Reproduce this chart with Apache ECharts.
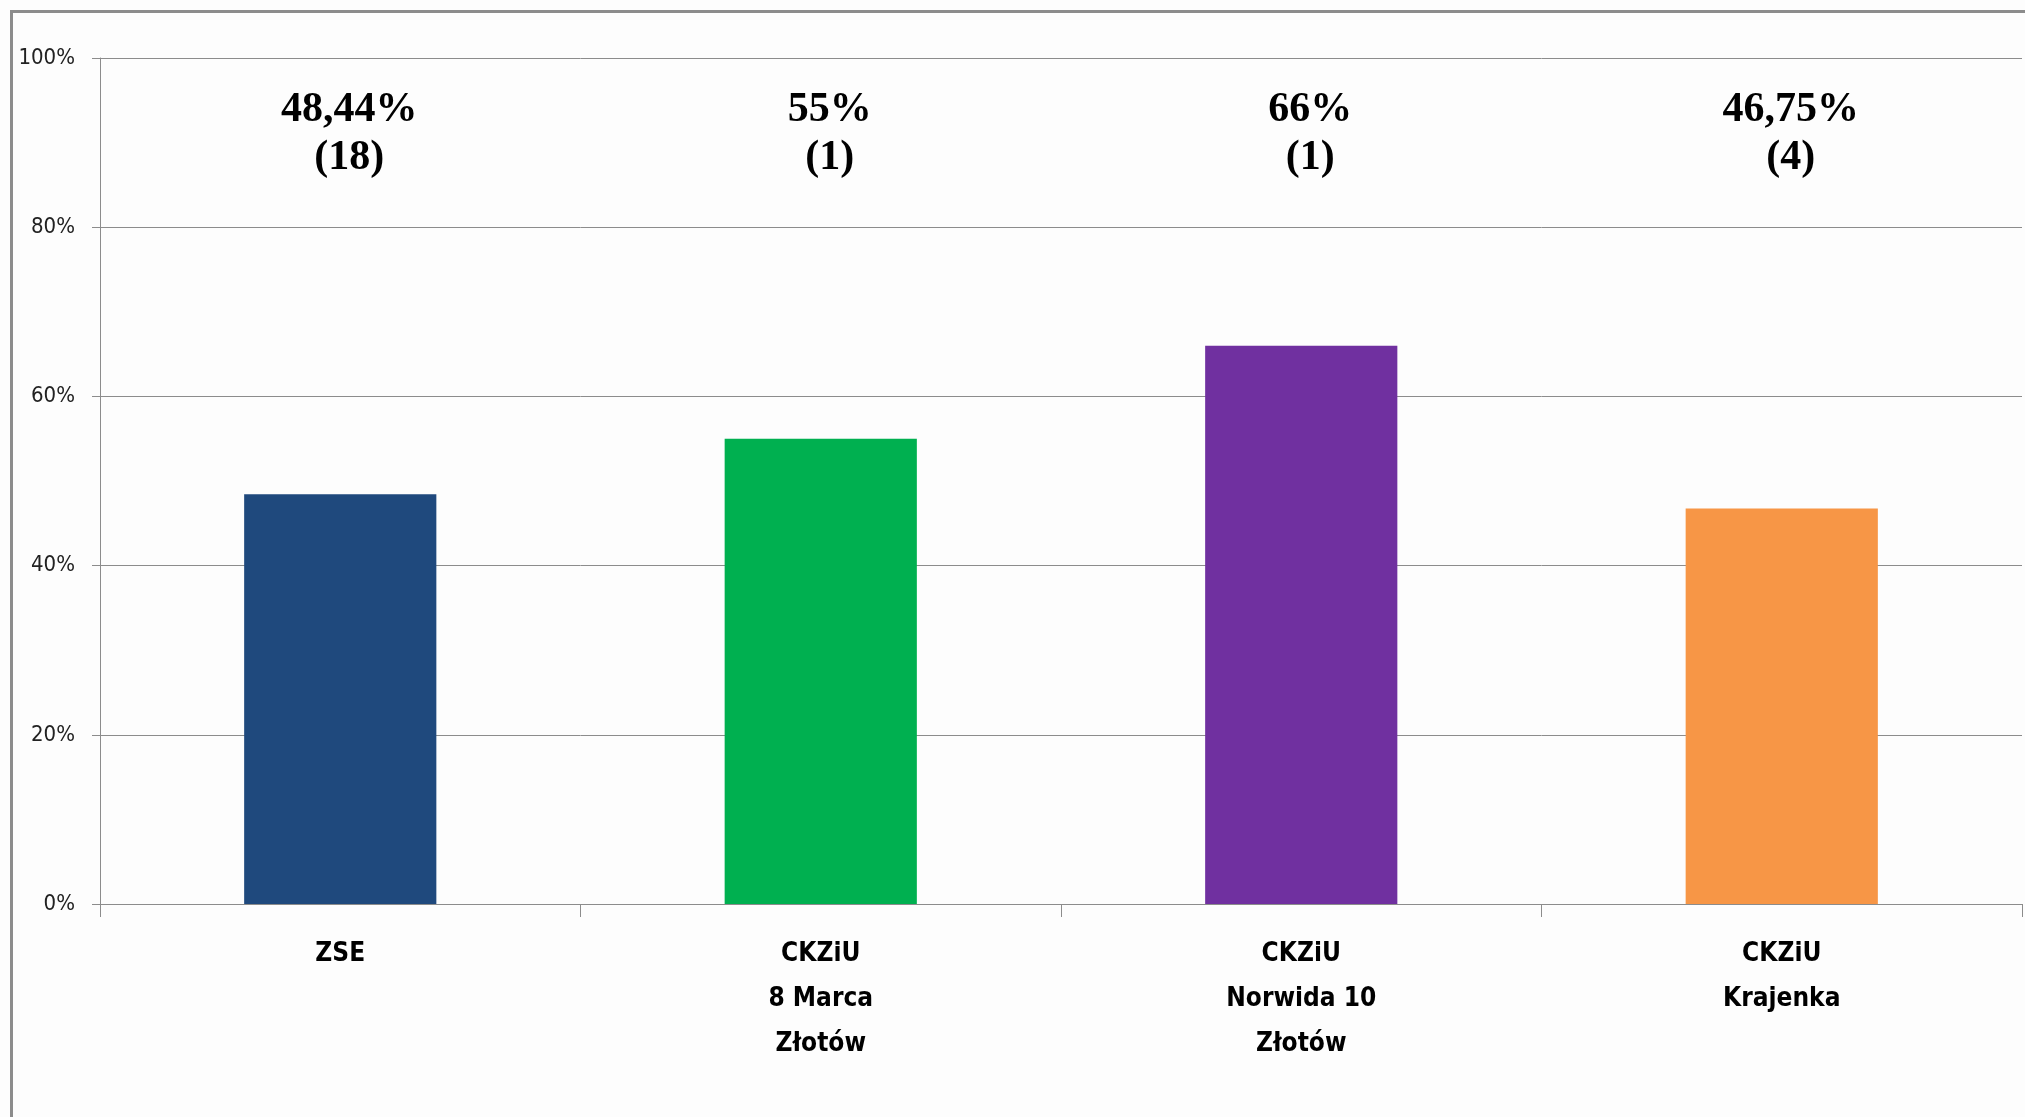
<!DOCTYPE html>
<html>
<head>
<meta charset="utf-8">
<script src="https://cdn.jsdelivr.net/npm/echarts@6/dist/echarts.min.js"></script>
<style>
  html, body { margin: 0; padding: 0; background: #fff; }
  #chart { width: 2025px; height: 1117px; }
</style>
</head>
<body>
<div id="chart"></div>
<script>
// dane wykresu
const categories = ['ZSE', 'CKZiU\n8 Marca\nZłotów', 'CKZiU\nNorwida 10\nZłotów', 'CKZiU\nKrajenka'];
const values = [48.44, 55, 66, 46.75];
const counts = [18, 1, 1, 4];
const barColors = ['#1F497D', '#00B050', '#7030A0', '#F79646'];
const yTicks = [0, 20, 40, 60, 80, 100];

const chart = echarts.init(document.getElementById('chart'));

// 48.44 -> "48,44%"
const fmtPct = v => String(v).replace('.', ',') + '%';

const option = {
  backgroundColor: '#fdfdfd',
  animation: false,
  graphic: [{
    type: 'rect',
    left: 9, top: 9,
    shape: { width: 2100, height: 1200 },
    style: { fill: 'none', stroke: '#8c8c8c', lineWidth: 3 },
    silent: true
  }],
  grid: { left: 100, right: 3, top: 58, bottom: 213 },
  xAxis: {
    type: 'category',
    data: categories,
    axisLine: { lineStyle: { color: '#8c8c8c', width: 1 } },
    axisTick: { show: true, length: 13, lineStyle: { color: '#8c8c8c' } },
    axisLabel: {
      margin: 28,
      fontFamily: 'DejaVu Sans Condensed, DejaVu Sans',
      fontWeight: 'bold',
      fontSize: 26,
      lineHeight: 45,
      color: '#000'
    }
  },
  yAxis: {
    type: 'value',
    min: yTicks[0],
    max: yTicks[yTicks.length - 1],
    interval: 20,
    axisLine: { show: true, lineStyle: { color: '#8c8c8c', width: 1 } },
    axisTick: { show: true, length: 8, lineStyle: { color: '#8c8c8c' } },
    splitLine: { lineStyle: { color: '#8c8c8c', width: 1 } },
    axisLabel: {
      formatter: '{value}%',
      margin: 25,
      fontFamily: 'DejaVu Sans Condensed, DejaVu Sans',
      fontSize: 22,
      color: '#222'
    }
  },
  series: [
    {
      name: 'wynik',
      type: 'bar',
      barWidth: '40%',
      data: values.map((v, i) => ({ value: v, itemStyle: { color: barColors[i] } })),
      z: 3
    },
    {
      // niewidoczna seria tylko dla opisów u góry
      name: 'opis',
      type: 'bar',
      barWidth: '40%',
      barGap: '-100%',
      silent: true,
      data: values.map(() => 100),
      itemStyle: { color: 'rgba(0,0,0,0)' },
      label: {
        show: true,
        position: 'insideTop',
        distance: 28,
        offset: [9, 0],
        formatter: p => fmtPct(values[p.dataIndex]) + '\n(' + counts[p.dataIndex] + ')',
        fontFamily: 'Liberation Serif, Times New Roman, serif',
        fontWeight: 'bold',
        fontSize: 42,
        lineHeight: 48,
        color: '#000'
      },
      z: 2
    }
  ]
};

chart.setOption(option);
</script>
</body>
</html>
